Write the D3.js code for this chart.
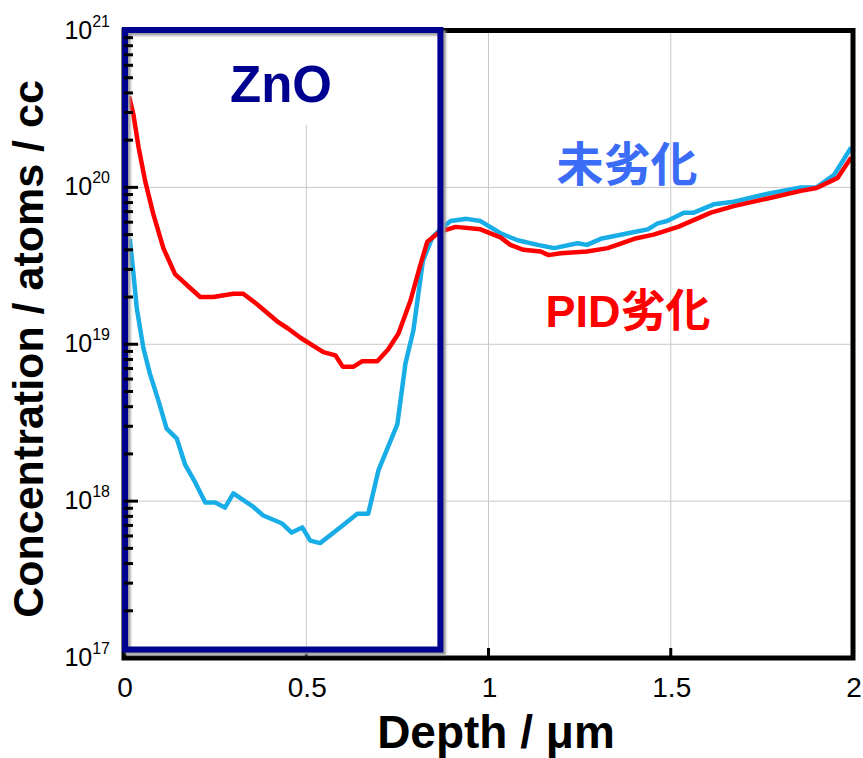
<!DOCTYPE html>
<html>
<head>
<meta charset="utf-8">
<script src="https://cdn.jsdelivr.net/npm/d3@7"></script>
<style>
  body { margin: 0; background: #fff; }
  svg { display: block; }
</style>
</head>
<body>
<svg id="chart"></svg>
<script>
// depth in um, concentration in atoms/cc
const pidDepth = [0.014, 0.026, 0.04, 0.058, 0.08, 0.108, 0.14, 0.18, 0.209, 0.245, 0.30, 0.327, 0.365, 0.42,
    0.45, 0.484, 0.547, 0.58, 0.60, 0.63, 0.654, 0.695, 0.725, 0.753, 0.786, 0.813, 0.832, 0.866, 0.91,
    0.978, 1.033, 1.06, 1.096, 1.143, 1.165, 1.198, 1.27, 1.327, 1.40, 1.453, 1.52, 1.61, 1.673, 1.766,
    1.857, 1.90, 1.958, 1.995];
const pidConc = [3.8e20, 2.9e20, 1.8e20, 1.1e20, 6.8e19, 4.1e19, 2.8e19, 2.3e19, 2.0e19, 2.0e19, 2.1e19,
    2.1e19, 1.8e19, 1.4e19, 1.26e19, 1.1e19, 8.9e18, 8.5e18, 7.2e18, 7.2e18, 7.8e18, 7.8e18, 9.3e18,
    1.17e19, 1.9e19, 3.2e19, 4.5e19, 5.2e19, 5.6e19, 5.4e19, 4.8e19, 4.3e19, 4.0e19, 3.9e19, 3.7e19,
    3.8e19, 3.9e19, 4.1e19, 4.7e19, 5.0e19, 5.6e19, 6.9e19, 7.6e19, 8.5e19, 9.5e19, 9.9e19, 1.15e20,
    1.55e20];

const freshDepth = [0.016, 0.026, 0.035, 0.053, 0.071, 0.094, 0.117, 0.145, 0.168, 0.195, 0.223, 0.25, 0.277,
    0.30, 0.352, 0.382, 0.434, 0.46, 0.489, 0.511, 0.538, 0.593, 0.64, 0.67, 0.698, 0.75, 0.772, 0.794,
    0.82, 0.846, 0.868, 0.896, 0.94, 0.978, 1.033, 1.08, 1.135, 1.18, 1.244, 1.27, 1.308, 1.40, 1.437,
    1.464, 1.49, 1.536, 1.563, 1.618, 1.673, 1.766, 1.857, 1.90, 1.948, 1.995];
const freshConc = [4.7e19, 2.8e19, 1.7e19, 9.5e18, 6.5e18, 4.4e18, 2.9e18, 2.5e18, 1.7e18, 1.32e18, 9.8e17,
    9.8e17, 9.1e17, 1.12e18, 9.3e17, 8.1e17, 7.2e17, 6.3e17, 6.8e17, 5.6e17, 5.4e17, 6.8e17, 8.3e17,
    8.3e17, 1.57e18, 3.1e18, 7.5e18, 1.23e19, 3.4e19, 4.8e19, 5.4e19, 6.1e19, 6.3e19, 6.1e19, 5.1e19,
    4.6e19, 4.3e19, 4.1e19, 4.4e19, 4.3e19, 4.7e19, 5.2e19, 5.4e19, 5.9e19, 6.1e19, 6.9e19, 6.9e19,
    7.8e19, 8.1e19, 9.1e19, 1.0e20, 1.0e20, 1.2e20, 1.8e20];

const xTicks = [0, 0.5, 1, 1.5, 2];
const yExponents = [17, 18, 19, 20, 21];
const znoEnd = 0.868;

const width = 863, height = 758;
const margin = { top: 30.5, left: 124 };

const svg = d3.select("#chart").attr("width", width).attr("height", height);

const x = d3.scaleLinear().domain([0, 2]).range([margin.left, 853]);
const y = d3.scaleLog().domain([1e17, 1e21]).range([658, margin.top]);

const defs = svg.append("defs");
defs.append("clipPath").attr("id", "plotClip")
    .append("rect")
    .attr("x", x(0)).attr("y", y(1e21))
    .attr("width", x(2) - x(0)).attr("height", y(1e17) - y(1e21));
defs.append("filter").attr("id", "blur")
    .append("feGaussianBlur").attr("stdDeviation", 1.2);

// grid
const grid = svg.append("g");
grid.selectAll(".gx")
    .data([0.5, 1, 1.5])
    .join("line")
    .attr("x1", d => x(d)).attr("x2", d => x(d))
    .attr("y1", y(1e21)).attr("y2", y(1e17))
    .attr("stroke", "#c8c8c8").attr("stroke-width", 1);
grid.selectAll(".gy")
    .data([18, 19, 20])
    .join("line")
    .attr("x1", x(0)).attr("x2", x(2))
    .attr("y1", d => y(Math.pow(10, d))).attr("y2", d => y(Math.pow(10, d)))
    .attr("stroke", "#c8c8c8").attr("stroke-width", 1);

// white label box that hides the grid behind ZnO
svg.append("rect")
    .attr("x", 205).attr("y", 34).attr("width", 150).attr("height", 91)
    .attr("fill", "#fff");

// series
const line = d3.line()
    .x(d => x(d[0]))
    .y(d => y(d[1]));

const plot = svg.append("g").attr("clip-path", "url(#plotClip)");
plot.append("path")
    .datum(d3.zip(freshDepth, freshConc))
    .attr("d", line)
    .attr("fill", "none")
    .attr("stroke", "#18ade6")
    .attr("stroke-width", 4.5)
    .attr("stroke-linejoin", "round");
plot.append("path")
    .datum(d3.zip(pidDepth, pidConc))
    .attr("d", line)
    .attr("fill", "none")
    .attr("stroke", "#ff0000")
    .attr("stroke-width", 4.5)
    .attr("stroke-linejoin", "round");

// frame
svg.append("rect")
    .attr("x", x(0)).attr("y", y(1e21))
    .attr("width", x(2) - x(0)).attr("height", y(1e17) - y(1e21))
    .attr("fill", "none")
    .attr("stroke", "#000")
    .attr("stroke-width", 5);

// x ticks
svg.selectAll(".xt")
    .data([0.5, 1, 1.5])
    .join("line")
    .attr("x1", d => x(d)).attr("x2", d => x(d))
    .attr("y1", y(1e17)).attr("y2", y(1e17) - 10)
    .attr("stroke", "#000").attr("stroke-width", 3);

// ZnO box with soft shadow
const boxX = x(0) + 1, boxY = y(1e21) - 0.5, boxW = x(znoEnd) - x(0) - 1, boxH = 649.5 - boxY;
svg.append("rect")
    .attr("x", boxX + 3).attr("y", boxY + 3).attr("width", boxW).attr("height", boxH)
    .attr("fill", "none").attr("stroke", "#9a9a9a").attr("stroke-width", 5)
    .attr("filter", "url(#blur)");
svg.append("rect")
    .attr("x", boxX).attr("y", boxY).attr("width", boxW).attr("height", boxH)
    .attr("fill", "none").attr("stroke", "#000090").attr("stroke-width", 6);

// y ticks (major + minor)
const yTickVals = [];
for (let e = 17; e < 21; e++) {
    for (let m = 1; m < 10; m++) yTickVals.push({ v: m * Math.pow(10, e), major: m === 1 });
}
svg.selectAll(".yt")
    .data(yTickVals.filter(d => d.v > 1e17))
    .join("line")
    .attr("x1", x(0)).attr("x2", d => x(0) + (d.major ? 14 : 9))
    .attr("y1", d => y(d.v)).attr("y2", d => y(d.v))
    .attr("stroke", "#000").attr("stroke-width", 3);

// tick labels
const font = "'Liberation Sans', Arial, Helvetica, sans-serif";
const yLab = svg.append("g").attr("font-family", font).attr("fill", "#000");
yExponents.forEach(e => {
    const t = yLab.append("text")
        .attr("x", 110).attr("y", y(Math.pow(10, e)) + 8)
        .attr("text-anchor", "end")
        .attr("font-size", 25);
    t.append("tspan").text("10");
    t.append("tspan").attr("font-size", 16).attr("dy", -12).text(e);
});

svg.append("g").selectAll("text")
    .data(xTicks)
    .join("text")
    .attr("x", d => x(d) + 1)
    .attr("y", 697)
    .attr("text-anchor", "middle")
    .attr("font-family", font)
    .attr("font-size", 28)
    .text(d => d);

// axis titles
svg.append("text")
    .attr("x", 496).attr("y", 748)
    .attr("text-anchor", "middle")
    .attr("font-family", font)
    .attr("font-weight", "bold")
    .attr("font-size", 46)
    .text("Depth / \u03bcm");

svg.append("text")
    .attr("transform", `translate(43, 349) rotate(-90)`)
    .attr("text-anchor", "middle")
    .attr("font-family", font)
    .attr("font-weight", "bold")
    .attr("font-size", 43)
    .text("Concentration / atoms / cc");

// annotations
svg.append("text")
    .attr("x", 281).attr("y", 102)
    .attr("text-anchor", "middle")
    .attr("font-family", font)
    .attr("font-weight", "bold")
    .attr("font-size", 51)
    .attr("fill", "#000090")
    .text("ZnO");

const cjk = "'Noto Sans CJK JP', 'Noto Sans CJK SC', sans-serif";
svg.append("text")
    .attr("x", 627).attr("y", 160)
    .attr("text-anchor", "middle")
    .attr("dominant-baseline", "central")
    .attr("font-family", cjk)
    .attr("font-weight", "bold")
    .attr("font-size", 47)
    .attr("fill", "#3b6cf6")
    .text("未劣化");

svg.append("text")
    .attr("x", 628).attr("y", 311)
    .attr("text-anchor", "middle")
    .attr("dominant-baseline", "central")
    .attr("font-family", `${font.split(",")[0]}, ${cjk}`)
    .attr("font-weight", "bold")
    .attr("font-size", 45)
    .attr("fill", "#ff0000")
    .text("PID劣化");
</script>
</body>
</html>
